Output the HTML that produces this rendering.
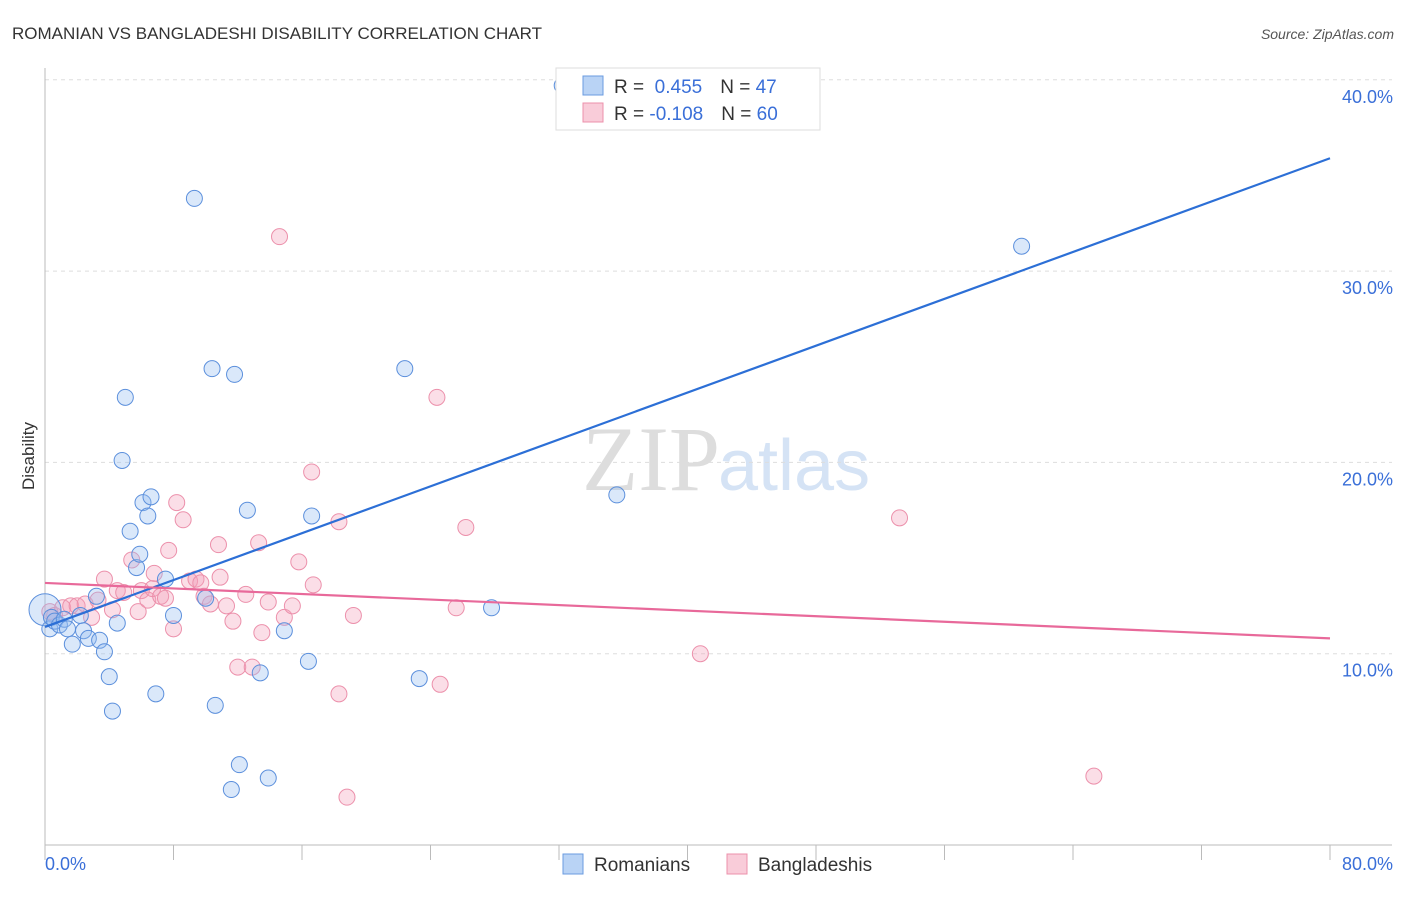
<!DOCTYPE html>
<html><head><meta charset="utf-8"><style>
body{margin:0;background:#fff;font-family:"Liberation Sans",sans-serif}
</style></head><body>
<svg id="c" width="1406" height="892" xmlns="http://www.w3.org/2000/svg" style="font-family:'Liberation Sans',sans-serif">
<text x="12" y="39" font-size="17" fill="#333">ROMANIAN VS BANGLADESHI DISABILITY CORRELATION CHART</text>
<text x="1394" y="39" font-size="14" fill="#555" font-style="italic" text-anchor="end">Source: ZipAtlas.com</text>
<text x="720" y="490" font-size="92" fill="#ddd" text-anchor="end" font-family="Liberation Serif">ZIP</text>
<text x="718" y="490" font-size="72" fill="#d5e3f5">atlas</text>
<g id="grid"></g><g id="axes"></g><g id="pts"></g><g id="lines"></g>
<text x="34" y="456" font-size="17" fill="#333" text-anchor="middle" transform="rotate(-90 34 456)">Disability</text>
<g>
<rect x="556" y="68" width="264" height="62" fill="#fff" stroke="#ddd"/>
<rect x="583" y="76" width="20" height="19" fill="#b9d3f5" stroke="#6a9be0"/>
<rect x="583" y="103" width="20" height="19" fill="#f9ccd9" stroke="#ec90ab"/>
<text x="614" y="93" font-size="19" fill="#333">R = <tspan fill="#3a6fd8">&#160;0.455</tspan><tspan dx="18">N = </tspan><tspan fill="#3a6fd8">47</tspan></text>
<text x="614" y="120" font-size="19" fill="#333">R = <tspan fill="#3a6fd8">-0.108</tspan><tspan dx="18">N = </tspan><tspan fill="#3a6fd8">60</tspan></text>
</g>
<g>
<rect x="563" y="854" width="20" height="20" fill="#b9d3f5" stroke="#6a9be0"/>
<text x="594" y="871" font-size="19" fill="#333">Romanians</text>
<rect x="727" y="854" width="20" height="20" fill="#f9ccd9" stroke="#ec90ab"/>
<text x="758" y="871" font-size="19" fill="#333">Bangladeshis</text>
</g>
</svg>
<script>
const yTicks=[10,20,30,40];
const yTickLabels=["10.0%","20.0%","30.0%","40.0%"];
const xTickLabels=["0.0%","80.0%"];
const blueX=[0,0.3,0.4,0.6,0.9,1.2,1.4,1.7,2.2,2.4,2.7,3.2,3.4,3.7,4.0,4.2,4.5,4.8,5.0,5.3,5.7,5.9,6.1,6.4,6.6,6.9,7.5,8.0,9.3,10.0,10.4,10.6,11.8,12.1,11.6,12.6,13.4,13.9,14.9,16.4,16.6,22.4,23.3,27.8,32.2,35.6,60.8];
const blueY=[12.3,11.3,11.9,11.7,11.5,11.8,11.3,10.5,12.0,11.2,10.8,13.0,10.7,10.1,8.8,7.0,11.6,20.1,23.4,16.4,14.5,15.2,17.9,17.2,18.2,7.9,13.9,12.0,33.8,12.9,24.9,7.3,24.6,4.2,2.9,17.5,9.0,3.5,11.2,9.6,17.2,24.9,8.7,12.4,39.7,18.3,31.3];
const pinkX=[0.3,0.6,1.1,1.6,2.0,2.5,2.9,3.3,3.7,4.2,4.5,4.9,5.4,5.8,6.0,6.4,6.7,6.8,7.2,7.5,7.7,8.0,8.2,8.6,9.0,9.4,9.7,9.9,10.3,10.8,10.9,11.3,11.7,12.0,12.5,12.9,13.3,13.5,13.9,14.6,14.9,15.4,15.8,16.6,16.7,18.3,18.3,18.8,19.2,24.4,24.6,25.6,26.2,40.8,53.2,65.3];
const pinkY=[12.2,12.0,12.4,12.5,12.5,12.6,11.9,12.8,13.9,12.3,13.3,13.2,14.9,12.2,13.3,12.8,13.4,14.2,13.0,12.9,15.4,11.3,17.9,17.0,13.8,13.9,13.7,13.0,12.6,15.7,14.0,12.5,11.7,9.3,13.1,9.3,15.8,11.1,12.7,31.8,11.9,12.5,14.8,19.5,13.6,16.9,7.9,2.5,12.0,23.4,8.4,12.4,16.6,10.0,17.1,3.6];
const blueTrend=[11.4,35.9];
const pinkTrend=[13.7,10.8];
const xs=v=>45+v/80*1285;
const ys=v=>845-v*19.13;
const NS="http://www.w3.org/2000/svg";
function mk(p,t,a){const e=document.createElementNS(NS,t);for(const k in a)e.setAttribute(k,a[k]);document.getElementById(p).appendChild(e);return e;}
yTicks.forEach((t,i)=>{
 let g=mk('grid','line',{x1:45,x2:1392,y1:ys(t),y2:ys(t),stroke:'#ddd','stroke-dasharray':'4,4'});
 
 
 let l=mk('grid','text',{x:1393,y:ys(t)+23,'font-size':18,fill:'#3a6fd8','text-anchor':'end'});
 l.textContent=yTickLabels[i];
 
 
});
let ax=mk('axes','line',{x1:45,x2:45,y1:68,y2:845,stroke:'#bbb'});


let bx=mk('axes','line',{x1:45,x2:1392,y1:845,y2:845,stroke:'#bbb'});


for(let i=0;i<=10;i++){let t=mk('axes','line',{x1:xs(i*8),x2:xs(i*8),y1:845,y2:860,stroke:'#bbb'});
 
 }
[[0,'start',45],[80,'end',1393]].forEach((d,i)=>{let t=mk('axes','text',{x:d[2],y:870,'font-size':18,fill:'#3a6fd8','text-anchor':d[1]});t.textContent=xTickLabels[i];
 
 });
pinkX.forEach((x,i)=>{let c=mk('pts','circle',{cx:xs(x),cy:ys(pinkY[i]),r:8,fill:'rgba(244,160,185,0.35)',stroke:'#ec90ab','stroke-width':1});
 
 });
blueX.forEach((x,i)=>{let c=mk('pts','circle',{cx:xs(x),cy:ys(blueY[i]),r:i==0?16:8,fill:'rgba(150,190,240,0.35)',stroke:'#5b8fdc','stroke-width':1});
 
 });
let bl=mk('lines','line',{x1:xs(0),y1:ys(blueTrend[0]),x2:xs(80),y2:ys(blueTrend[1]),stroke:'#2c6fd6','stroke-width':2.2});


let pl=mk('lines','line',{x1:xs(0),y1:ys(pinkTrend[0]),x2:xs(80),y2:ys(pinkTrend[1]),stroke:'#e8699a','stroke-width':2.2});


</script>
</body></html>
